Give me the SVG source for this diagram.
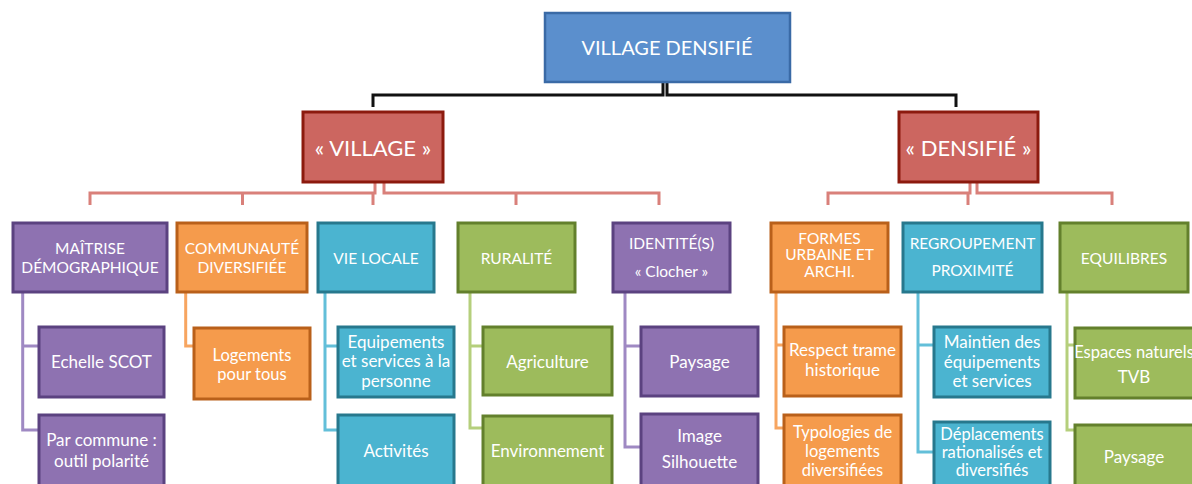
<svg xmlns="http://www.w3.org/2000/svg" width="1192" height="484" viewBox="0 0 1192 484">
<style>
text{font-family:Lato,"Open Sans","Liberation Sans",sans-serif;fill:#fff;text-anchor:middle}
.t0{font-size:20px}
.t1{font-size:22px}
.t2{font-size:15.5px}
.t3{font-size:17px}
.t4{font-size:16.5px}
rect{stroke-width:3}
.blue{fill:#5b8fcd;stroke:#3a6aa6;stroke-width:2.5}
.red{fill:#cc6660;stroke:#8c1a0e}
.pur{fill:#8e72b1;stroke:#5b4280}
.ora{fill:#f59b4c;stroke:#b9601a}
.tea{fill:#4bb4d0;stroke:#27788d}
.gre{fill:#9dbb5c;stroke:#63802c}
#connectors path{fill:none;stroke-width:3}
.cb{stroke:#111}
.cr{stroke:#d9807a}
.cp{stroke:#9f89c3}
.co{stroke:#f7a560}
.ct{stroke:#63bfd9}
.cg{stroke:#b5cf7c}
</style>
<g id="connectors">
<path class="cb" d="M663 82V95H373V107M667 82V95H956V107"/>
<path class="cr" d="M375 182V193H90V205M384 182V193H659V205M242.5 193V205M373 193V205M516 193V205"/>
<path class="cr" d="M970 182V193H828V205M977 182V193H1112V205M968 193V205"/>
<path class="cp" d="M22.7 292V430H39M22.7 346H39"/>
<path class="co" d="M185.7 292V346H194"/>
<path class="ct" d="M325 292V430H338M325 346H338"/>
<path class="cg" d="M470 292V428H483M470 346H483"/>
<path class="cp" d="M625 292V447H641M625 346H641"/>
<path class="co" d="M776 292V428H784M776 345H784"/>
<path class="ct" d="M918 292V452H934M918 345H934"/>
<path class="cg" d="M1067 292V430H1075M1067 345H1075"/>
</g>
<g id="n-root"><rect class="blue" x="545" y="13" width="245" height="69"/><text class="t0" x="667" y="55">VILLAGE DENSIFIÉ</text></g>
<g id="n-village"><rect class="red" x="303" y="112" width="140" height="70"/><text class="t1" x="373" y="156">« VILLAGE »</text></g>
<g id="n-densifie"><rect class="red" x="899" y="112" width="139" height="70"/><text class="t1" x="968.5" y="156">« DENSIFIÉ »</text></g>

<g id="n-maitrise"><rect class="pur" x="13" y="223" width="154" height="69"/><text class="t2" x="90" y="254">MAÎTRISE</text><text class="t2" x="90" y="273">DÉMOGRAPHIQUE</text></g>
<g id="n-communaute"><rect class="ora" x="177" y="223" width="130" height="69"/><text class="t2" x="242" y="254">COMMUNAUTÉ</text><text class="t2" x="242" y="273">DIVERSIFIÉE</text></g>
<g id="n-vielocale"><rect class="tea" x="318" y="223" width="116" height="69"/><text class="t2" x="376" y="264">VIE LOCALE</text></g>
<g id="n-ruralite"><rect class="gre" x="458" y="223" width="117" height="69"/><text class="t2" x="516.5" y="264">RURALITÉ</text></g>
<g id="n-identite"><rect class="pur" x="613" y="223" width="117" height="69"/><text class="t2" x="671.5" y="249">IDENTITÉ(S)</text><text class="t2" x="671.5" y="277">« Clocher »</text></g>
<g id="n-formes"><rect class="ora" x="771" y="223" width="117" height="69"/><text class="t2" x="829.5" y="244">FORMES</text><text class="t2" x="829.5" y="260">URBAINE ET</text><text class="t2" x="829.5" y="277">ARCHI.</text></g>
<g id="n-regroupement"><rect class="tea" x="903" y="223" width="139" height="69"/><text class="t2" x="972.5" y="249">REGROUPEMENT</text><text class="t2" x="972.5" y="276">PROXIMITÉ</text></g>
<g id="n-equilibres"><rect class="gre" x="1060" y="223" width="128" height="69"/><text class="t2" x="1124" y="264">EQUILIBRES</text></g>

<g id="n-echelle"><rect class="pur" x="39" y="327" width="125" height="70"/><text class="t3" x="101.5" y="368">Echelle SCOT</text></g>
<g id="n-parcommune"><rect class="pur" x="39" y="415" width="125" height="75"/><text class="t3" x="101.5" y="446">Par commune :</text><text class="t3" x="101.5" y="467">outil polarité</text></g>
<g id="n-logements"><rect class="ora" x="194" y="328" width="116" height="71"/><text class="t4" x="252" y="361">Logements</text><text class="t4" x="252" y="380">pour tous</text></g>
<g id="n-equipements"><rect class="tea" x="338" y="327" width="116" height="70"/><text class="t3" x="396" y="348">Equipements</text><text class="t3" x="396" y="367">et services à la</text><text class="t3" x="396" y="387">personne</text></g>
<g id="n-activites"><rect class="tea" x="338" y="415" width="116" height="75"/><text class="t3" x="396" y="457">Activités</text></g>
<g id="n-agriculture"><rect class="gre" x="483" y="327" width="129" height="68"/><text class="t3" x="547.5" y="368">Agriculture</text></g>
<g id="n-environnement"><rect class="gre" x="483" y="416" width="129" height="74"/><text class="t3" x="547.5" y="457">Environnement</text></g>
<g id="n-paysage1"><rect class="pur" x="641" y="327" width="117" height="69"/><text class="t3" x="699.5" y="368">Paysage</text></g>
<g id="n-image"><rect class="pur" x="641" y="414" width="117" height="76"/><text class="t3" x="699.5" y="442">Image</text><text class="t3" x="699.5" y="468">Silhouette</text></g>
<g id="n-respect"><rect class="ora" x="784" y="327" width="117" height="69"/><text class="t3" x="842.5" y="356">Respect trame</text><text class="t3" x="842.5" y="376">historique</text></g>
<g id="n-typologies"><rect class="ora" x="784" y="415" width="117" height="75"/><text class="t4" x="842.5" y="438">Typologies de</text><text class="t4" x="842.5" y="457">logements</text><text class="t4" x="842.5" y="476">diversifiées</text></g>
<g id="n-maintien"><rect class="tea" x="934" y="327" width="116" height="70"/><text class="t3" x="992" y="348">Maintien des</text><text class="t3" x="992" y="368">équipements</text><text class="t3" x="992" y="387">et services</text></g>
<g id="n-deplacements"><rect class="tea" x="934" y="422" width="116" height="68"/><text class="t4" x="992" y="440">Déplacements</text><text class="t4" x="992" y="458">rationalisés et</text><text class="t4" x="992" y="476">diversifiés</text></g>
<g id="n-espaces"><rect class="gre" x="1075" y="328" width="125" height="70"/><text class="t4" x="1134" y="358">Espaces naturels</text><text class="t3" x="1134" y="383">TVB</text></g>
<g id="n-paysage2"><rect class="gre" x="1075" y="425" width="125" height="65"/><text class="t3" x="1134" y="463">Paysage</text></g>
</svg>
